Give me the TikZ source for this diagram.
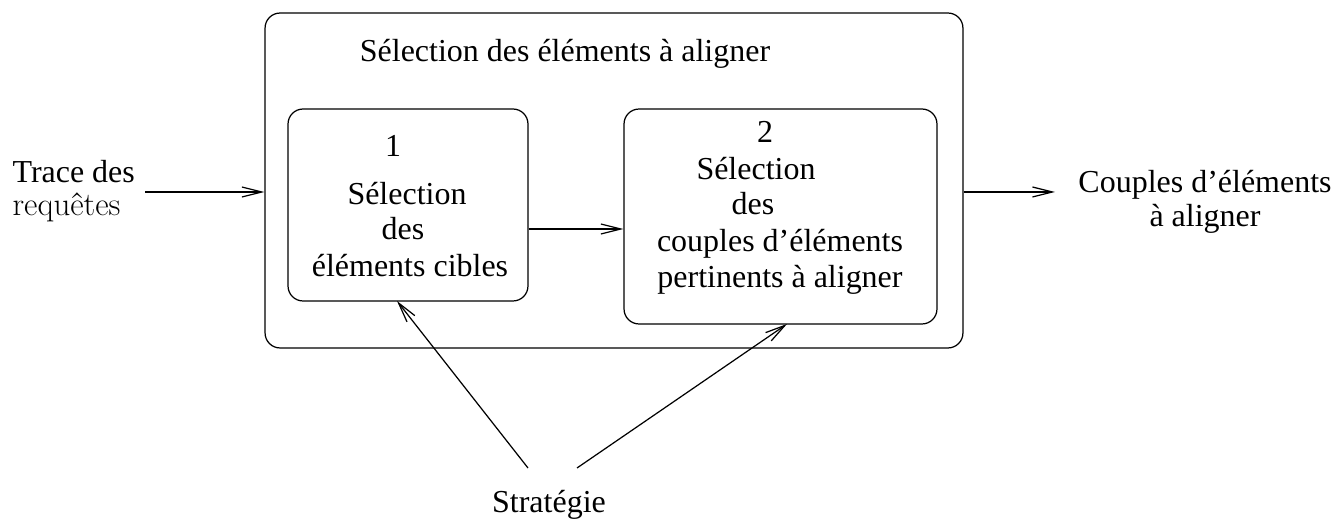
\documentclass[tikz,border=0pt]{standalone}
\usepackage{fontspec}
\setmainfont{Liberation Serif}
\newfontfamily\lmfont{Latin Modern Roman}
\usetikzlibrary{arrows.meta}
\begin{document}
\begin{tikzpicture}[x=0.02cm,y=-0.02cm,
  line width=0.7pt,
  arr/.style={-{Straight Barb[length=0.4cm,width=0.2cm,line width=0.7pt]}},
  box/.style={draw,rounded corners=0.3cm,inner sep=0pt},
  lbl/.style={anchor=base,inner sep=0pt,font=\fontsize{18.2}{22}\selectfont}]
\useasboundingbox (0,0) rectangle (1338,519);
% boxes
\node[box,minimum width=13.96cm,minimum height=6.7cm] (outer) at (614,180.5) {};
\node[box,minimum width=4.8cm,minimum height=3.84cm] (b1) at (408,205) {};
\node[box,minimum width=6.26cm,minimum height=4.3cm] (b2) at (780.5,216.5) {};
% texts
\node[lbl] (title) at (565,62) {Sélection des éléments à aligner};
\node[lbl] (n1) at (393,157) {1};
\node[lbl] (b1a) at (407,205) {Sélection};
\node[lbl] (b1b) at (403,240) {des};
\node[lbl] (b1c) at (410,277) {éléments cibles};
\node[lbl] (n2) at (765,143) {2};
\node[lbl] (b2a) at (756,180) {Sélection};
\node[lbl] (b2b) at (753,215) {des};
\node[lbl] (b2c) at (780,252) {couples d’éléments};
\node[lbl] (b2d) at (780,288) {pertinents à aligner};
\node[lbl,anchor=base west] (trace) at (12,183) {Trace des};
\node[lbl,anchor=base west,font=\fontsize{18.7}{22}\selectfont\lmfont] (req) at (12,216) {requêtes};
\node[lbl] (out1) at (1205,193) {Couples d’éléments};
\node[lbl] (out2) at (1205,227) {à aligner};
\node[lbl] (strat) at (549,513) {Stratégie};
% connectors
\coordinate (inL) at (145,192);
\coordinate (outR) at (1055,192);
\coordinate (mid) at (0,229);
\coordinate (s1) at (528,468);
\coordinate (s2) at (577,468);
\coordinate (t1) at (397,301);
\coordinate (t2) at (787,324);
\draw[arr] (inL) -- (inL -| outer.west);
\draw[arr] (outR -| outer.east) -- (outR);
\draw[arr] (mid -| b1.east) -- (mid -| b2.west);
\draw[arr] (s1) -- (t1);
\draw[arr] (s2) -- (t2);
\end{tikzpicture}
\end{document}
